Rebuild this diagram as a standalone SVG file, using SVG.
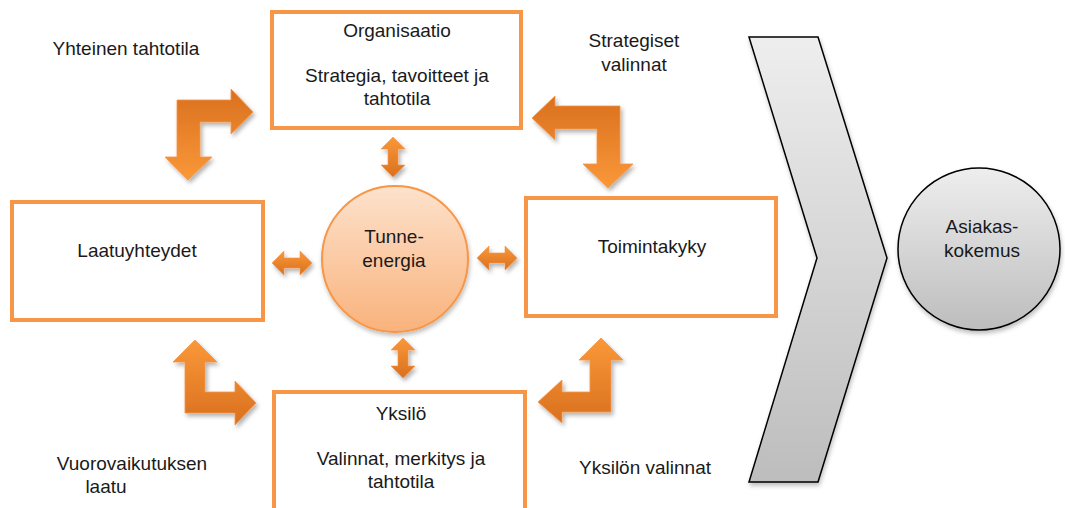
<svg xmlns="http://www.w3.org/2000/svg" width="1065" height="508" viewBox="0 0 1065 508">
<defs>
<style>
text{font-family:"Liberation Sans",Arial,sans-serif;font-size:19px;fill:#1a1a1a;text-anchor:middle;}
.box{fill:#fff;stroke:#F79646;stroke-width:4;}
.bentDown{fill:url(#gDarkTop);stroke:#F79646;stroke-width:0.8;filter:url(#sh);}
.bentUp{fill:url(#gLightTop);stroke:#F79646;stroke-width:0.8;filter:url(#sh);}
.small{fill:url(#gLightTop);stroke:#F79646;stroke-width:0.6;filter:url(#sh);}
.gray{fill:url(#gGray);stroke:#000;stroke-width:1.5;filter:url(#sh2);}
</style>
<linearGradient id="gDarkTop" x1="0" y1="0" x2="0" y2="1">
<stop offset="0" stop-color="#D9701F"/><stop offset="1" stop-color="#FA9838"/>
</linearGradient>
<linearGradient id="gLightTop" x1="0" y1="0" x2="0" y2="1">
<stop offset="0" stop-color="#FA9838"/><stop offset="1" stop-color="#D9701F"/>
</linearGradient>
<linearGradient id="gCircle" x1="0" y1="0" x2="0" y2="1">
<stop offset="0" stop-color="#FDE2CC"/><stop offset="1" stop-color="#F9B27C"/>
</linearGradient>
<linearGradient id="gGray" x1="0" y1="0" x2="0" y2="1">
<stop offset="0" stop-color="#EEEEEE"/><stop offset="1" stop-color="#BDBDBD"/>
</linearGradient>
<filter id="sh" x="-30%" y="-30%" width="160%" height="160%">
<feDropShadow dx="2" dy="3" stdDeviation="2" flood-color="#000" flood-opacity="0.3"/>
</filter>
<filter id="sh2" x="-10%" y="-10%" width="120%" height="120%">
<feDropShadow dx="1" dy="3" stdDeviation="2" flood-color="#000" flood-opacity="0.25"/>
</filter>
</defs>
<rect width="1065" height="508" fill="#fff"/>

<g id="connectors">
<path class="bentDown" d="M177,100 L231,100 L231,89 L253,112 L231,134 L231,122 L200,122 L200,157 L212,157 L188,180 L165,157 L177,157 Z"/>
<path class="bentDown" d="M555,106 L620,106 L620,164 L633,164 L608,188 L583,164 L597,164 L597,129 L555,129 L555,140 L532,118 L555,96 Z"/>
<path class="bentUp" d="M195,340 L217,362 L205,362 L205,392 L235,392 L235,381 L256,403 L235,425 L235,413 L185,413 L185,362 L173,362 Z"/>
<path class="bentUp" d="M601,338 L623,360 L611,360 L611,412 L562,412 L562,423 L538,402 L562,380 L562,392 L590,392 L590,360 L579,360 Z"/>
<path class="small" d="M393,137 L405,149 L398,149 L398,165 L405,165 L393,177 L381,165 L388,165 L388,149 L381,149 Z"/>
<path class="small" d="M403,338 L415,350 L408,350 L408,366 L415,366 L403,378 L391,366 L398,366 L398,350 L391,350 Z"/>
<path class="small" d="M272,263 L284,251 L284,258 L300,258 L300,251 L312,263 L300,275 L300,268 L284,268 L284,275 Z"/>
<path class="small" d="M477,258 L489,246 L489,253 L505,253 L505,246 L517,258 L505,270 L505,263 L489,263 L489,270 Z"/>
</g>

<g id="organisaatio">
<rect class="box" x="272" y="12" width="249" height="116"/>
<text x="397" y="37">Organisaatio</text>
<text x="397" y="82">Strategia, tavoitteet ja</text>
<text x="397" y="105">tahtotila</text>
</g>

<g id="laatuyhteydet">
<rect class="box" x="12" y="202" width="251" height="118"/>
<text x="137" y="257">Laatuyhteydet</text>
</g>

<g id="toimintakyky">
<rect class="box" x="526" y="198" width="250" height="118"/>
<text x="652" y="253">Toimintakyky</text>
</g>

<g id="yksilo">
<rect class="box" x="274" y="392" width="251" height="130"/>
<text x="401" y="420">Yksilö</text>
<text x="401" y="465">Valinnat, merkitys ja</text>
<text x="401" y="488">tahtotila</text>
</g>

<g id="tunne-energia">
<circle cx="395" cy="259" r="73" fill="url(#gCircle)" stroke="#F79646" stroke-width="2" filter="url(#sh2)"/>
<text x="394" y="243">Tunne-</text>
<text x="394" y="267">energia</text>
</g>

<g id="chevron">
<path class="gray" d="M749,37 L818,37 L887,258 L818,482 L749,482 L817,258 Z"/>
</g>

<g id="asiakaskokemus">
<circle class="gray" cx="979" cy="249" r="81"/>
<text x="982" y="233">Asiakas-</text>
<text x="982" y="257">kokemus</text>
</g>

<g id="labels">
<text x="126" y="55">Yhteinen tahtotila</text>
<text x="634" y="47">Strategiset</text>
<text x="634" y="71">valinnat</text>
<text x="132" y="470">Vuorovaikutuksen</text>
<text x="106" y="493">laatu</text>
<text x="645" y="474">Yksilön valinnat</text>
</g>
</svg>
